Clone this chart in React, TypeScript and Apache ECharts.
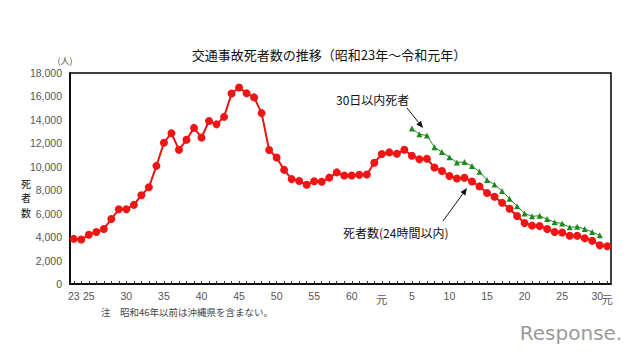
import React, { useEffect, useRef } from 'react';
import * as echarts from 'echarts';

// Years: Showa 23 .. Showa 63, Heisei 1 .. Heisei 30, Reiwa 1
const categories = [
  'S23', 'S24', 'S25', 'S26', 'S27', 'S28', 'S29', 'S30', 'S31', 'S32',
  'S33', 'S34', 'S35', 'S36', 'S37', 'S38', 'S39', 'S40', 'S41', 'S42',
  'S43', 'S44', 'S45', 'S46', 'S47', 'S48', 'S49', 'S50', 'S51', 'S52',
  'S53', 'S54', 'S55', 'S56', 'S57', 'S58', 'S59', 'S60', 'S61', 'S62',
  'S63',
  'H1', 'H2', 'H3', 'H4', 'H5', 'H6', 'H7', 'H8', 'H9', 'H10',
  'H11', 'H12', 'H13', 'H14', 'H15', 'H16', 'H17', 'H18', 'H19', 'H20',
  'H21', 'H22', 'H23', 'H24', 'H25', 'H26', 'H27', 'H28', 'H29', 'H30',
  'R1',
];

// 死者数 (24時間以内)
const deaths24h = [
  3848, 3790, 4202, 4429, 4696, 5544, 6374, 6379, 6751, 7575,
  8248, 10079, 12055, 12865, 11445, 12301, 13318, 12484, 13904, 13618,
  14256, 16257, 16765, 16278, 15918, 14574, 11432, 10792, 9734, 8945,
  8783, 8466, 8760, 8719, 9073, 9520, 9262, 9261, 9317, 9347,
  10344,
  11086, 11227, 11109, 11451, 10942, 10649, 10684, 9942, 9640, 9211,
  9006, 9066, 8747, 8326, 7768, 7436, 6937, 6415, 5796, 5209,
  4979, 4948, 4691, 4438, 4388, 4113, 4117, 3904, 3694, 3300,
  3215,
];

// 30日以内死者 (from Heisei 5 to Heisei 30)
const deaths30d = [
  null, null, null, null, null, null, null, null, null, null,
  null, null, null, null, null, null, null, null, null, null,
  null, null, null, null, null, null, null, null, null, null,
  null, null, null, null, null, null, null, null, null, null,
  null,
  null, null, null, null, 13269, 12768, 12670, 11674, 11254, 10805,
  10372, 10403, 10060, 9575, 8877, 8492, 7931, 7272, 6639, 6023,
  5772, 5828, 5535, 5261, 5165, 4838, 4885, 4698, 4431, 4166,
  null,
];

const tickCats = ['S23', 'S25', 'S30', 'S35', 'S40', 'S45', 'S50', 'S55', 'S60', 'H1', 'H5', 'H10', 'H15', 'H20', 'H25', 'H30', 'R1'];
const tickTexts = ['23', '25', '30', '35', '40', '45', '50', '55', '60', '元', '5', '10', '15', '20', '25', '30', '元'];

const yAxisTitleChars = ['死', '者', '数'];

const yMin = 0;
const yMax = 18000;
const yStep = 2000;

const JP = '"Noto Sans CJK JP", "Noto Sans", sans-serif';
const NUM = '"Liberation Sans", Arial, sans-serif';

export default function App() {
  const ref = useRef<HTMLDivElement>(null);

  useEffect(() => {
    if (!ref.current) return;
    const chart = echarts.init(ref.current, null, { renderer: 'svg' });

    const arrow = (x1: number, y1: number, x2: number, y2: number) => {
      const dx = x2 - x1;
      const dy = y2 - y1;
      const len = Math.sqrt(dx * dx + dy * dy);
      const ux = dx / len;
      const uy = dy / len;
      const px = -uy;
      const py = ux;
      const hl = 7;
      const hw = 3;
      const bx = x2 - ux * hl;
      const by = y2 - uy * hl;
      return [
        {
          type: 'line',
          shape: { x1, y1, x2: bx, y2: by },
          style: { stroke: '#111', lineWidth: 1 },
          silent: true,
        },
        {
          type: 'polygon',
          shape: {
            points: [
              [x2, y2],
              [bx + px * hw, by + py * hw],
              [bx - px * hw, by - py * hw],
            ],
          },
          style: { fill: '#111' },
          silent: true,
        },
      ];
    };

    const yTitle = yAxisTitleChars.map((ch, i) => ({
      type: 'text',
      x: 26,
      y: 183 + i * 14.5,
      style: {
        text: ch,
        fontFamily: JP,
        fontSize: 10,
        fill: '#111',
        align: 'center',
        verticalAlign: 'middle',
      },
    }));

    chart.setOption({
      animation: false,
      backgroundColor: '#ffffff',
      grid: {
        left: 70,
        right: 29,
        top: 73,
        bottom: 72,
        show: true,
        borderColor: '#000',
        borderWidth: 1.5,
        outerBoundsMode: 'none',
      },
      xAxis: {
        type: 'category',
        data: categories,
        boundaryGap: true,
        axisLine: { show: true, lineStyle: { color: '#000', width: 1.5 } },
        axisTick: {
          show: true,
          inside: true,
          length: 3,
          interval: 0,
          alignWithLabel: true,
          lineStyle: { color: '#333', width: 1 },
        },
        axisLabel: {
          interval: 0,
          margin: 6,
          color: '#555',
          fontSize: 10.5,
          fontFamily: NUM,
          formatter: (value: string) => {
            const i = tickCats.indexOf(value);
            if (i < 0) return '';
            const t = tickTexts[i];
            if (t === '元') return '{g|元}';
            if (value === 'H30') return '{l|30}';
            return t;
          },
          rich: {
            g: { fontFamily: JP, fontSize: 11, color: '#555', padding: [4, 0, 0, 0] },
            l: { fontSize: 10.5, color: '#555', padding: [0, 5, 0, 0], fontFamily: NUM },
          },
        },
        splitLine: { show: false },
      },
      yAxis: {
        type: 'value',
        min: yMin,
        max: yMax,
        interval: yStep,
        axisLine: { show: true, lineStyle: { color: '#000', width: 1.5 } },
        axisTick: { show: false },
        splitLine: { show: false },
        axisLabel: {
          margin: 8,
          color: '#555',
          fontSize: 10.5,
          fontFamily: NUM,
          formatter: (v: number) => v.toLocaleString('en-US'),
        },
      },
      series: [
        {
          name: '死者数(24時間以内)',
          type: 'line',
          data: deaths24h,
          symbol: 'circle',
          symbolSize: 8,
          showSymbol: true,
          itemStyle: { color: '#f01414' },
          lineStyle: { color: '#e81414', width: 2 },
          z: 3,
        },
        {
          name: '30日以内死者',
          type: 'line',
          data: deaths30d,
          connectNulls: false,
          symbol: 'triangle',
          symbolSize: 6,
          showSymbol: true,
          itemStyle: { color: '#1e8a1e' },
          lineStyle: { color: '#1e8a1e', width: 1 },
          z: 4,
        },
      ],
      graphic: [
        {
          type: 'text',
          x: 329,
          y: 54,
          style: {
            text: '交通事故死者数の推移（昭和23年～令和元年）',
            fontFamily: JP,
            fontSize: 13,
            fill: '#111',
            align: 'center',
            verticalAlign: 'middle',
          },
        },
        {
          type: 'text',
          x: 65,
          y: 60,
          style: {
            text: '(人)',
            fontFamily: JP,
            fontSize: 9,
            fill: '#555',
            align: 'center',
            verticalAlign: 'middle',
          },
        },
        ...yTitle,
        {
          type: 'text',
          x: 336,
          y: 99,
          style: {
            text: '30日以内死者',
            fontFamily: JP,
            fontSize: 12,
            fill: '#111',
            align: 'left',
            verticalAlign: 'middle',
          },
        },
        ...arrow(407, 108, 423, 128),
        {
          type: 'text',
          x: 343,
          y: 232,
          style: {
            text: '死者数(24時間以内)',
            fontFamily: JP,
            fontSize: 12,
            fill: '#111',
            align: 'left',
            verticalAlign: 'middle',
          },
        },
        ...arrow(443, 221, 467, 188),
        {
          type: 'text',
          x: 101,
          y: 312,
          style: {
            text: '注　昭和46年以前は沖縄県を含まない。',
            fontFamily: JP,
            fontSize: 9.5,
            fill: '#444',
            align: 'left',
            verticalAlign: 'middle',
          },
        },
        {
          type: 'text',
          x: 571,
          y: 333,
          style: {
            text: 'Response.',
            fontFamily: '"DejaVu Sans", sans-serif',
            fontSize: 20,
            fill: '#9a9a9a',
            align: 'center',
            verticalAlign: 'middle',
          },
        },
      ],
    });

    return () => {
      chart.dispose();
    };
  }, []);

  return (
    <div
      ref={ref}
      style={{ position: 'absolute', left: 0, top: 0, width: 640, height: 356, background: '#fff' }}
    />
  );
}
